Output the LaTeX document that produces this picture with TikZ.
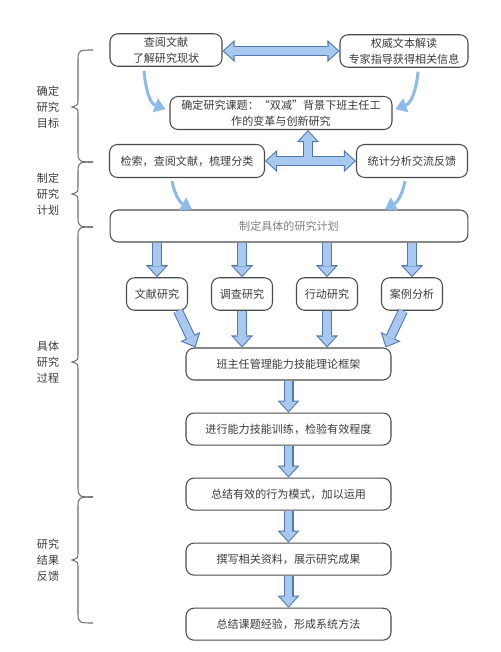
\documentclass[tikz,border=0pt]{standalone}
\usepackage{fontspec}
\setmainfont{Noto Sans CJK SC}
\usepackage{tikz}
\usetikzlibrary{arrows.meta, positioning, calc}

\definecolor{boxline}{HTML}{4A4A4A}
\definecolor{textgray}{HTML}{3A3A3A}
\definecolor{arredge}{HTML}{4F78B0}
\definecolor{arrfill}{HTML}{A8C8F0}
\definecolor{curvecol}{HTML}{8CBAEA}

\tikzset{
    headout/.tip={Triangle[length=0.24cm, width=0.44cm, line width=0pt]},
    headin/.tip={Triangle[length=0.188cm, width=0.345cm, line width=0pt]},
}

\begin{document}
\begin{tikzpicture}[
    x=0.02cm, y=-0.02cm,
    box/.style={draw=boxline, line width=0.6pt, rounded corners=0.16cm, minimum height=0.65cm,
        inner sep=0pt, align=center, text=textgray, font=\fontsize{6.3}{9}\selectfont},
    method/.style={box, minimum width=1.22cm},
    stepbox/.style={box, minimum width=4.1cm, minimum height=0.64cm},
    blkedge/.style={draw=arredge, line width=0.2cm, shorten >=0pt, shorten <=0pt, -headout},
    blkfill/.style={draw=arrfill, line width=0.158cm, shorten >=0.031cm, -headin},
    blockarr/.style={blkfill, preaction={blkedge}},
    dblarr/.style={draw=arrfill, line width=0.158cm, shorten >=0.031cm, shorten <=0.031cm, headin-headin,
        preaction={draw=arredge, line width=0.2cm, shorten >=0pt, shorten <=0pt, headout-headout}},
    curvearr/.style={draw=curvecol, line width=0.06cm, -{Triangle[length=0.22cm, width=0.3cm, line width=0pt]}},
    phase/.style={align=center, text=textgray, font=\fontsize{6.3}{9}\selectfont}
]
\fill[white] (0,0) rectangle (500,652);
\useasboundingbox (0,0) rectangle (500,652);

% Goal stage
\node[box, minimum width=2.24cm] (lit) at (166,50) {查阅文献\\了解研究现状};
\node[box, minimum width=2.56cm] (auth) at (404,51) {权威文本解读\\专家指导获得相关信息};
\node[box, minimum width=4.44cm, minimum height=0.66cm] (topic) at (281,113) {确定研究课题：“双减”背景下班主任工\\作的变革与创新研究};

\draw[dblarr] (lit.east |- auth.west) -- (auth.west);
\draw[curvearr] ([shift={(-22,4)}]lit.south) to[out=-85, in=160] ([shift={(-4,-4)}]topic.west);
\draw[curvearr] ([shift={(14,4)}]auth.south) to[out=-95, in=20] ([shift={(3,-4)}]topic.east);

% Plan stage
\node[box, minimum width=3.1cm, minimum height=0.66cm] (search) at (187,161) {检索，查阅文献，梳理分类};
\node[box, minimum width=2.22cm, minimum height=0.66cm] (stat) at (412,161) {统计分析交流反馈};
\node[box, minimum width=7.16cm, minimum height=0.64cm, text=gray] (plan) at (289,226) {制定具体的研究计划};

\coordinate (hub) at (308,161);
\draw[blkedge] (hub) -- (hub |- topic.south);
\draw[blkedge, headout-headout] (search.east) -- (stat.west);
\draw[blkfill] (hub) -- (hub |- topic.south);
\draw[blkfill, headin-headin, shorten <=0.031cm] (search.east) -- (stat.west);

\draw[curvearr] ([shift={(-15,3)}]search.south) to[out=-80, in=150] ([shift={(-97,0)}]plan.north);
\draw[curvearr] ([shift={(-7,3)}]stat.south) to[out=-100, in=30] ([shift={(96,0)}]plan.north);

% Methods
\node[method] (m1) at (157,294) {文献研究};
\node[method] (m2) at (242,294) {调查研究};
\node[method] (m3) at (327,294) {行动研究};
\node[method] (m4) at (412,294) {案例分析};

\foreach \m in {m1, m2, m3, m4}
    \draw[blockarr] (\m |- plan.south) -- (\m.north);

% Process chain
\node[stepbox] (frame) at (288.5,364) {班主任管理能力技能理论框架};
\node[stepbox, below=0.64cm of frame] (train) {进行能力技能训练，检验有效程度};
\node[stepbox, below=0.64cm of train] (summ) {总结有效的行为模式，加以运用};
\node[stepbox, below=0.64cm of summ] (write) {撰写相关资料，展示研究成果};
\node[stepbox, below=0.64cm of write] (final) {总结课题经验，形成系统方法};

\draw[blockarr] ([shift={(21,0)}]m1.south) -- ([shift={(10,0)}]frame.north west);
\draw[blockarr] (m2.south) -- (m2.south |- frame.north);
\draw[blockarr] (m3.south) -- (m3.south |- frame.north);
\draw[blockarr] ([shift={(-9,0)}]m4.south) -- ([shift={(-6,0)}]frame.north east);

\draw[blockarr] (frame.south) -- (train.north);
\draw[blockarr] (train.south) -- (summ.north);
\draw[blockarr] (summ.south) -- (write.north);
\draw[blockarr] (write.south) -- (final.north);

% Stage braces
\foreach \ya/\ym/\yb/\txt in {50/107/162/确定\\研究\\目标, 162/194/227/制定\\研究\\计划,
        227/362/497/具体\\研究\\过程, 497/560/623/研究\\结果\\反馈} {
    \draw[boxline!80, line width=0.6pt] (93,\ya) .. controls (80,\ya) and (78,\ya) .. (78,\ya+9)
        -- (78,\ym-7) .. controls (78,\ym-2) .. (72,\ym) .. controls (78,\ym+2) .. (78,\ym+7)
        -- (78,\yb-9) .. controls (78,\yb) and (80,\yb) .. (93,\yb);
    \node[phase] at (48,\ym) {\txt};
}

\end{tikzpicture}
\end{document}
